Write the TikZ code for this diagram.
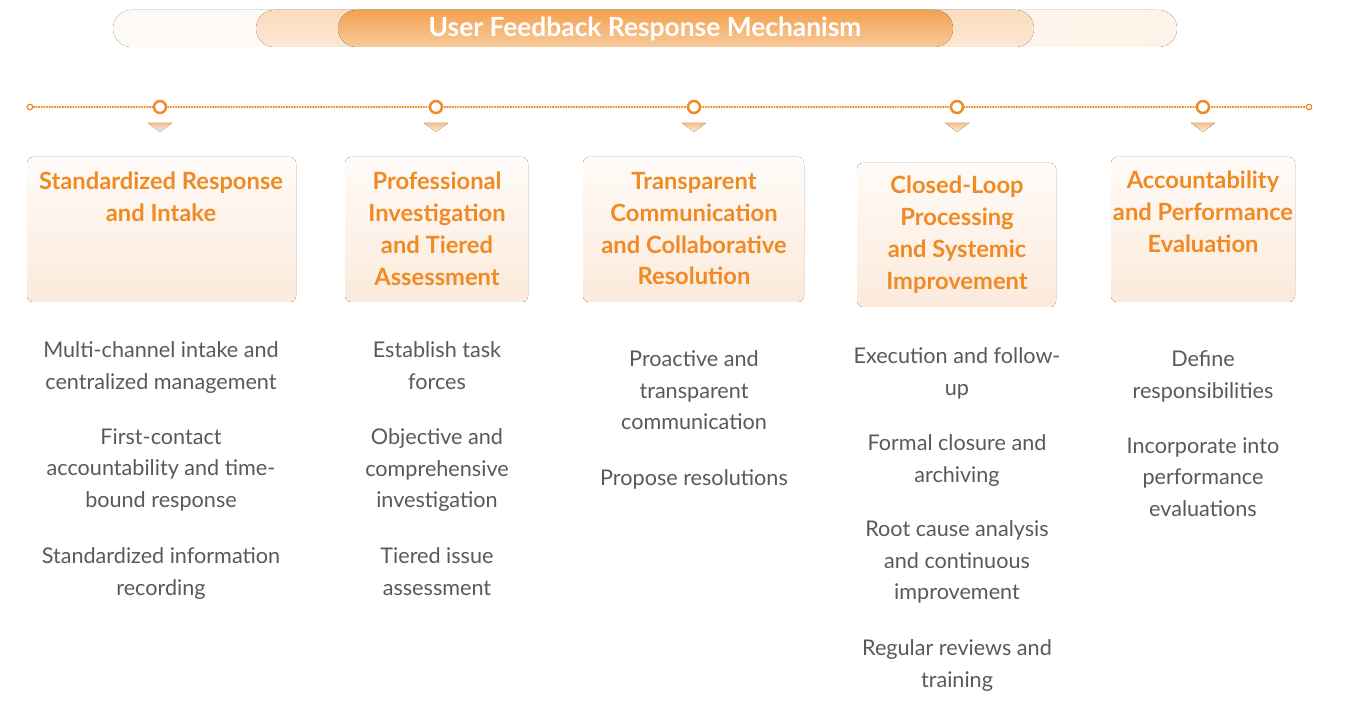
\documentclass[tikz,border=0pt]{standalone}
\usepackage{fontspec}
\setmainfont{Lato}
\usetikzlibrary{positioning}
\definecolor{accent}{HTML}{F08A24}
\definecolor{bodygrey}{HTML}{595959}
\definecolor{cardtop}{HTML}{FFFBF8}
\definecolor{cardbot}{HTML}{FCEADB}
\begin{document}
\begin{tikzpicture}[x=0.02cm,y=-0.02cm, line join=round, line cap=round,
    card/.style={rounded corners=0.12cm, top color=cardtop, bottom color=cardbot, draw=none},
    cardtitle/.style={anchor=north, inner sep=0pt, align=center, text=accent, font=\fontsize{13.5}{18.1}\selectfont\bfseries},
    body/.style={anchor=north, inner sep=0pt, align=center, text=bodygrey, font=\fontsize{12.3}{18.1}\selectfont},
    bigdot/.style={circle, draw=accent, line width=1.4pt, fill=white, minimum size=0.24cm, inner sep=0pt},
    enddot/.style={circle, draw=accent, line width=0.7pt, fill=white, minimum size=0.11cm, inner sep=0pt},
    pointer/.style={top color=accent!55, bottom color=accent!15, draw=none}]
  \useasboundingbox (0,0) rectangle (1357,716);
  % title banner
  \fill[rounded corners=0.37cm, left color=accent!4, right color=accent!10] (113,10) rectangle (1177,47);
  \fill[rounded corners=0.37cm, top color=accent!30, bottom color=accent!20] (256,10) rectangle (1034,47);
  \fill[rounded corners=0.37cm, top color=accent!80, bottom color=accent!45] (338,10) rectangle (953,47);
  \node[text=white, font=\fontsize{15}{17}\selectfont\bfseries] (title) at (645,29) {User Feedback Response Mechanism};
  % timeline
  \node[enddot] (e0) at (30,107) {};
  \node[enddot] (e6) at (1309,107) {};
  \draw[accent, line width=0.6pt, dash pattern=on 0.6pt off 0.9pt] (e0) -- (e6);
  \node[bigdot] (c1) at (160,107) {};
  \node[bigdot] (c2) at (436,107) {};
  \node[bigdot] (c3) at (694,107) {};
  \node[bigdot] (c4) at (957,107) {};
  \node[bigdot] (c5) at (1203,107) {};
  \fill[pointer] (148,123)--(172,123)--(160,132)--cycle;
  \fill[pointer] (424,123)--(448,123)--(436,132)--cycle;
  \fill[pointer] (682,123)--(706,123)--(694,132)--cycle;
  \fill[pointer] (945,123)--(969,123)--(957,132)--cycle;
  \fill[pointer] (1191,123)--(1215,123)--(1203,132)--cycle;
  % cards
  \fill[card] (27,157) rectangle (296,302);
  \fill[card] (345,157) rectangle (528,302);
  \fill[card] (583,157) rectangle (804,302);
  \fill[card] (857,163) rectangle (1056,307);
  \fill[card] (1111,157) rectangle (1295,302);
  \node[cardtitle] (h1) at (161,172) {Standardized Response\\and Intake};
  \node[cardtitle] (h2) at (437,172) {Professional\\Investigation\\and Tiered\\Assessment};
  \node[cardtitle] (h3) at (694,172) {Transparent\\Communication\\and Collaborative\\Resolution};
  \node[cardtitle] (h4) at (957,176) {Closed-Loop\\Processing\\and Systemic\\Improvement};
  \node[cardtitle] (h5) at (1203,171) {Accountability\\and Performance\\Evaluation};
  % column 1
  \node[body] (b1a) at (161,341) {Multi-channel intake and\\centralized management};
  \node[body] (b1b) at (161,428) {First-contact\\accountability and time-\\bound response};
  \node[body] (b1c) at (161,547) {Standardized information\\recording};
  % column 2
  \node[body] (b2a) at (437,341) {Establish task\\forces};
  \node[body] (b2b) at (437,428) {Objective and\\comprehensive\\investigation};
  \node[body] (b2c) at (437,547) {Tiered issue\\assessment};
  % column 3
  \node[body] (b3a) at (694,350) {Proactive and\\transparent\\communication};
  \node[body] (b3b) at (694,469) {Propose resolutions};
  % column 4
  \node[body] (b4a) at (957,347) {Execution and follow-\\up};
  \node[body] (b4b) at (957,434) {Formal closure and\\archiving};
  \node[body] (b4c) at (957,520) {Root cause analysis\\and continuous\\improvement};
  \node[body] (b4d) at (957,639) {Regular reviews and\\training};
  % column 5
  \node[body] (b5a) at (1203,350) {Define\\responsibilities};
  \node[body] (b5b) at (1203,437) {Incorporate into\\performance\\evaluations};
\end{tikzpicture}
\end{document}
